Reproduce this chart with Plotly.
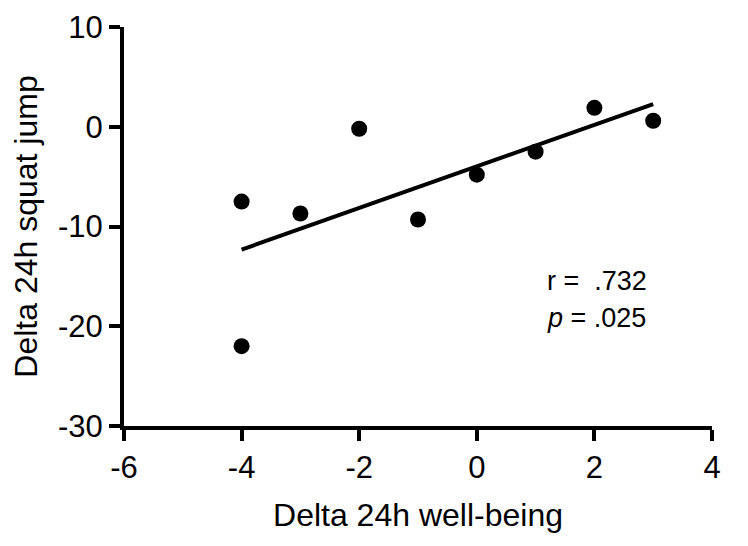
import numpy as np
import plotly.graph_objects as go

# change in 24h well-being vs change in 24h squat jump
well_being = [-4, -4, -3, -2, -1, 0, 1, 2, 3]
squat_jump = [-7.5, -22.0, -8.7, -0.2, -9.3, -4.8, -2.5, 1.9, 0.6]

x_ticks = [-6, -4, -2, 0, 2, 4]
y_ticks = [-30, -20, -10, 0, 10]

stat_lines = ["r =  .732", "<i>p</i> = .025"]

# least squares line over the observed x span
slope, intercept = np.polyfit(well_being, squat_jump, 1)
fit_x = np.array([min(well_being), max(well_being)])
fit_y = slope * fit_x + intercept

font = "Liberation Sans, Arial, Helvetica, sans-serif"

fig = go.Figure()
fig.add_trace(go.Scatter(x=fit_x, y=fit_y, mode="lines",
                         line=dict(color="black", width=4), hoverinfo="skip"))
fig.add_trace(go.Scatter(x=well_being, y=squat_jump, mode="markers",
                         marker=dict(color="black", size=16)))

for txt, ypos in zip(stat_lines, [-15.5, -19.2]):
    fig.add_annotation(x=1.16, y=ypos, text=txt, showarrow=False,
                       xanchor="left", yanchor="middle",
                       font=dict(family=font, size=27, color="black"))

axis_common = dict(showgrid=False, zeroline=False, showline=True, linecolor="black",
                   linewidth=4, ticks="outside", ticklen=11, tickwidth=4, automargin=False,
                   tickcolor="black", tickfont=dict(family=font, size=31, color="black"))

fig.update_xaxes(range=[-6, 4], tickvals=x_ticks, ticktext=[str(v) for v in x_ticks],
                 title=dict(text="Delta 24h well-being",
                            font=dict(family=font, size=32, color="black"), standoff=20),
                 **axis_common)
fig.update_yaxes(range=[-30, 10], tickvals=y_ticks, ticktext=[str(v) for v in y_ticks],
                 title=dict(text="Delta 24h squat jump",
                            font=dict(family=font, size=32, color="black"), standoff=12),
                 **axis_common)

fig.update_layout(width=748, height=546, showlegend=False,
                  plot_bgcolor="white", paper_bgcolor="white",
                  margin=dict(l=116, r=44, t=19, b=128))

fig.write_html("out.html")
